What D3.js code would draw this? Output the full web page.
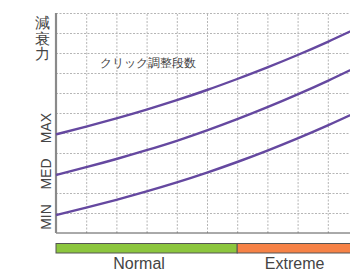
<!DOCTYPE html>
<html>
<head>
<meta charset="utf-8">
<script src="https://cdn.jsdelivr.net/npm/d3@7"></script>
<style>
  body { margin: 0; background: #fff; }
  svg { display: block; }
  text { font-family: "Liberation Sans", Arial, sans-serif; fill: #444; }
</style>
</head>
<body>
<div id="chartDiv"></div>
<script>
// click steps along x, damping force in grid units along y
var clicks = [0, 1, 2, 3, 4, 5, 6, 7, 8, 9, 10];
var maxForce = [4.93, 5.32, 5.73, 6.17, 6.64, 7.15, 7.70, 8.28, 8.90, 9.56, 10.26];
var medForce = [2.9, 3.29, 3.70, 4.14, 4.61, 5.13, 5.69, 6.29, 6.93, 7.61, 8.33];
var minForce = [0.9, 1.27, 1.66, 2.08, 2.53, 3.02, 3.55, 4.12, 4.73, 5.38, 6.07];

var levelLabels = ["MIN", "MED", "MAX"];
var levelValues = [0.8, 2.95, 5.25];

var zones = ["Normal", "Extreme"];
var zoneStart = [0, 6];
var zoneEnd = [6, 10];
var zoneLabelAt = [2.75, 7.9];
var zoneColours = ["#8cc63e", "#f68246"];

function makeChart() {
  var width = 350, height = 271;

  var svg = d3.select("#chartDiv").append("svg")
    .attr("width", width)
    .attr("height", height);

  var x = d3.scaleLinear().domain([0, 10]).range([56, 358]);
  var y = d3.scaleLinear().domain([0, 11]).range([233, 13]);

  // dotted grid
  svg.append("g")
    .attr("transform", "translate(0," + y(0) + ")")
    .call(d3.axisBottom(x).tickValues(d3.range(1, 10)).tickSize(-(y(0) - y(11))).tickFormat(""))
    .call(function(g) { g.select(".domain").remove(); })
    .selectAll("line")
      .attr("stroke", "#b5b5b5")
      .attr("stroke-dasharray", "2,1.5");

  svg.append("g")
    .attr("transform", "translate(" + x(0) + ",0)")
    .call(d3.axisLeft(y).tickValues(d3.range(1, 12)).tickSize(-(x(10) - x(0))).tickFormat(""))
    .call(function(g) { g.select(".domain").remove(); })
    .selectAll("line")
      .attr("stroke", "#b5b5b5")
      .attr("stroke-dasharray", "2,1.5");

  // axes lines
  svg.append("line")
    .attr("x1", x(0)).attr("x2", x(10))
    .attr("y1", y(0)).attr("y2", y(0))
    .attr("stroke", "#555").attr("stroke-width", 1);

  svg.append("line")
    .attr("x1", x(0)).attr("x2", x(0))
    .attr("y1", y(11)).attr("y2", y(0))
    .attr("stroke", "#8a8a8a").attr("stroke-width", 2.2);

  // curves
  var line = d3.line()
    .x(function(d, i) { return x(clicks[i]); })
    .y(function(d) { return y(d); })
    .curve(d3.curveNatural);

  svg.append("g")
    .selectAll("path")
    .data([minForce, medForce, maxForce])
    .enter()
    .append("path")
      .attr("d", line)
      .attr("fill", "none")
      .attr("stroke", "#6548a0")
      .attr("stroke-width", 2.4);

  // y labels
  svg.append("text")
    .attr("x", 42)
    .attr("y", 12)
    .attr("font-size", 15)
    .attr("text-anchor", "middle")
    .selectAll("tspan")
    .data(["減", "衰", "力"])
    .enter()
    .append("tspan")
      .attr("x", 42)
      .attr("dy", "1.05em")
      .text(function(d) { return d; });

  svg.append("g")
    .selectAll("text")
    .data(levelLabels)
    .enter()
    .append("text")
      .attr("transform", function(d, i) { return "translate(51," + y(levelValues[i]) + ") rotate(-90)"; })
      .attr("text-anchor", "middle")
      .attr("font-size", 14)
      .text(function(d) { return d; });

  svg.append("text")
    .attr("x", 100)
    .attr("y", 67)
    .attr("font-family", "'Noto Sans CJK JP', sans-serif")
    .attr("font-size", 12)
    .text("クリック調整段数");

  // zone bar
  svg.append("g")
    .selectAll("rect")
    .data(zones)
    .enter()
    .append("rect")
      .attr("x", function(d, i) { return x(zoneStart[i]); })
      .attr("y", 243.5)
      .attr("width", function(d, i) { return x(zoneEnd[i]) - x(zoneStart[i]); })
      .attr("height", 9.5)
      .attr("fill", function(d, i) { return zoneColours[i]; })
      .attr("stroke", "#555")
      .attr("stroke-width", 1);

  svg.append("g")
    .selectAll("text")
    .data(zones)
    .enter()
    .append("text")
      .attr("x", function(d, i) { return x(zoneLabelAt[i]); })
      .attr("y", 269)
      .attr("text-anchor", "middle")
      .attr("font-size", 16)
      .text(function(d) { return d; });
}

makeChart();
</script>
</body>
</html>
